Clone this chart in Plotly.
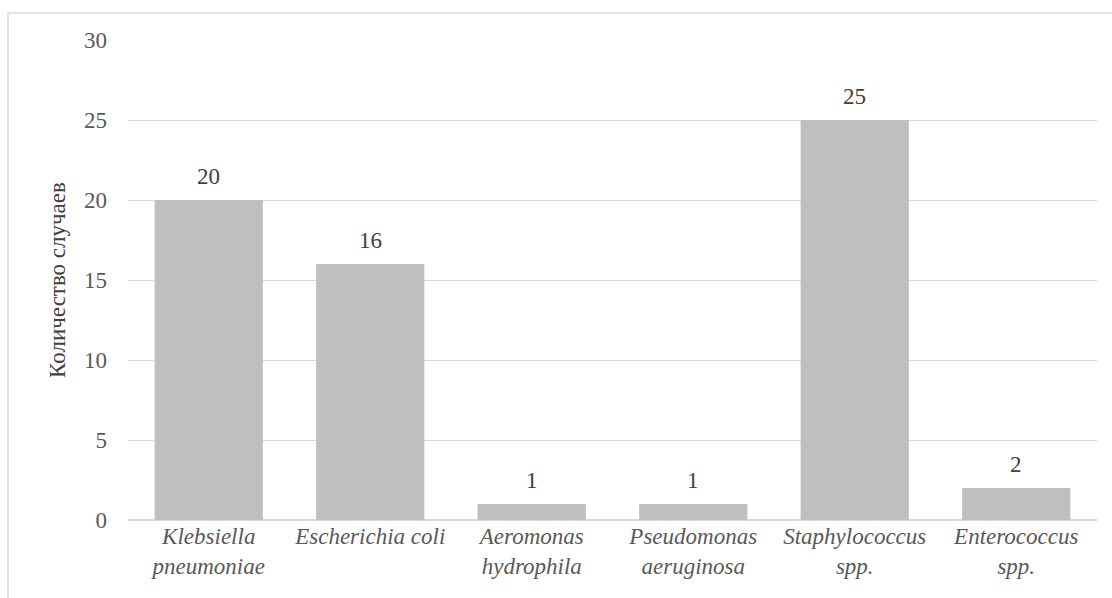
import plotly.graph_objects as go

# Bacterial species and number of cases
species = [
    "Klebsiella<br>pneumoniae",
    "Escherichia coli",
    "Aeromonas<br>hydrophila",
    "Pseudomonas<br>aeruginosa",
    "Staphylococcus<br>spp.",
    "Enterococcus<br>spp.",
]
cases = [20, 16, 1, 1, 25, 2]
y_ticks = [0, 5, 10, 15, 20, 25, 30]

SERIF = "serif"
TEXT = "#595959"
GRID = "#D9D9D9"

W, H = 1112, 598
L, R, T, B = 128, 15, 40, 78
pw, ph = W - L - R, H - T - B

x_idx = list(range(len(species)))

fig = go.Figure(
    go.Bar(
        x=x_idx,
        y=cases,
        width=0.67,
        marker=dict(color="#BFBFBF", line=dict(width=0)),
        hoverinfo="skip",
    )
)

# value labels above each bar
for xi, v in zip(x_idx, cases):
    fig.add_annotation(
        x=xi, y=v, text=str(v), showarrow=False,
        yanchor="bottom", yshift=9,
        font=dict(family=SERIF, size=23, color="#404040"),
    )

# outer frame of the chart area
fig.add_shape(
    type="rect", xref="paper", yref="paper",
    x0=(8 - L) / pw, x1=(W + 20 - L) / pw,
    y0=-(H + 20 - (T + ph)) / ph, y1=(T + ph - 13) / ph,
    line=dict(color=GRID, width=1.5), fillcolor="rgba(0,0,0,0)", layer="below",
)

fig.update_layout(
    width=W, height=H,
    margin=dict(l=L, r=R, t=T, b=B, pad=0),
    paper_bgcolor="white", plot_bgcolor="white",
    showlegend=False,
    bargap=0.33,
    font=dict(family=SERIF, size=23, color=TEXT),
    xaxis=dict(
        tickmode="array", tickvals=x_idx,
        ticktext=["<i>" + s.replace("<br>", "</i><br><i>") + "</i>" for s in species],
        range=[-0.5, len(species) - 0.5],
        showgrid=False, zeroline=False,
        showline=False, ticks="",
        tickfont=dict(family=SERIF, size=23, color=TEXT),
        fixedrange=True,
    ),
    yaxis=dict(
        range=[0, 30], tickvals=y_ticks,
        showgrid=True, gridcolor=GRID, gridwidth=1,
        zeroline=True, zerolinecolor=GRID, zerolinewidth=1.5,
        showline=False, ticks="",
        tickfont=dict(family=SERIF, size=23, color=TEXT),
        ticklabelstandoff=20,
        title=dict(text="Количество случаев", standoff=11,
                   font=dict(family=SERIF, size=23, color="#404040")),
        fixedrange=True,
    ),
)

fig.write_html("out.html")
